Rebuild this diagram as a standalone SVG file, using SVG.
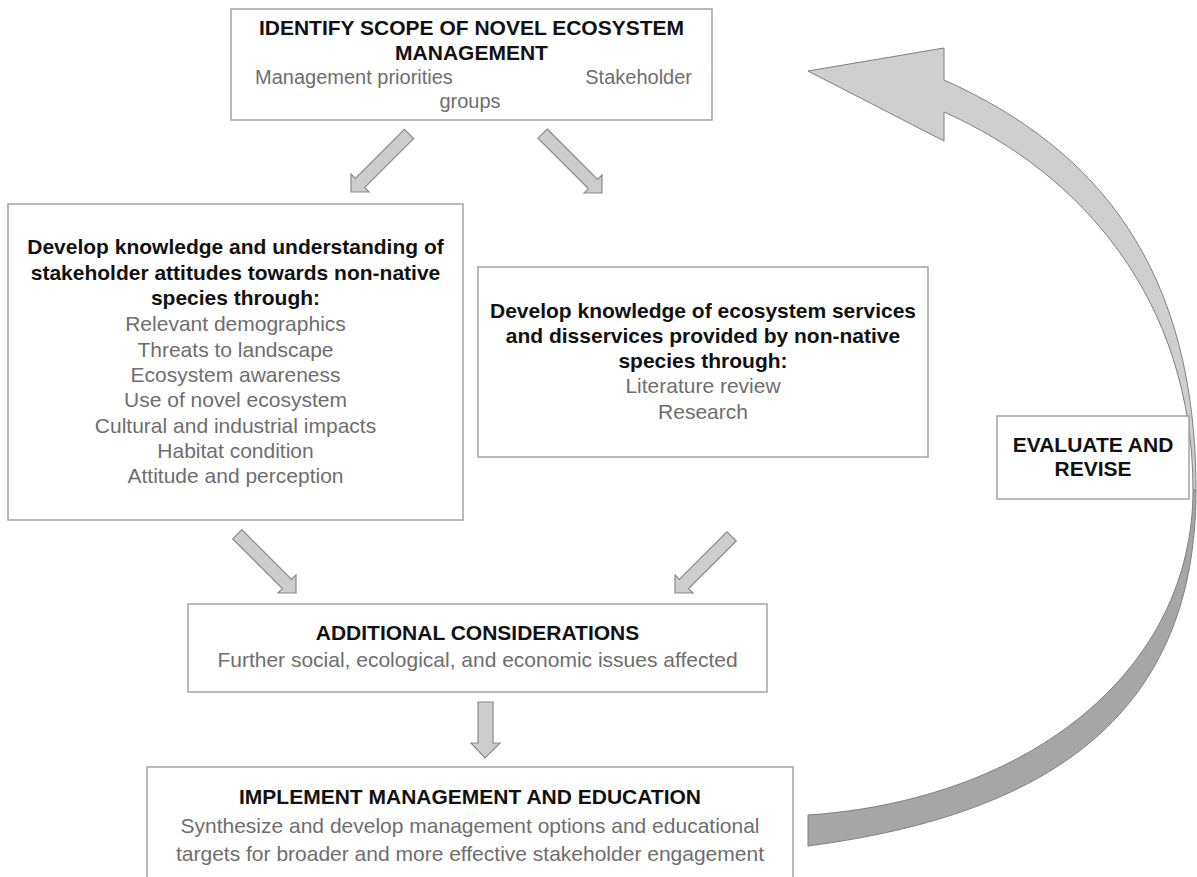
<svg xmlns="http://www.w3.org/2000/svg" width="1197" height="877" viewBox="0 0 1197 877">
<style>
.box{fill:#fff;stroke:#a3a3a3;stroke-width:1.5}
.t{font-family:"Liberation Sans",Arial,sans-serif;font-size:21px;font-weight:bold;fill:#111;text-anchor:middle}
.g{font-family:"Liberation Sans",Arial,sans-serif;font-size:21px;fill:#6e6e6e;text-anchor:middle}
.arr{fill:#cdcdcd;stroke:#8a8a8a;stroke-width:1.2;stroke-linejoin:miter}
</style>
<rect width="1197" height="877" fill="#fff"/>
<g id="connectors">
<polygon class="arr" points="413.6,138.6 364.6,187.6 369,192 351,192 351,174 355.4,178.4 404.4,129.4"/>
<polygon class="arr" points="547.2,129 597.6,179.4 602,175 602,193 584,193 588.4,188.6 538,138.2"/>
<polygon class="arr" points="241.9,529.7 291.6,579.4 296,575 296,593 278,593 282.4,588.6 232.7,538.9"/>
<polygon class="arr" points="736.2,541 688.6,588.6 693,593 675,593 675,575 679.4,579.4 727,531.8"/>
<polygon class="arr" points="478,702 493,702 493,743 500,743 485,758 471,743 478,743"/>
<path fill="#a6a6a6" stroke="#7f7f7f" stroke-width="1" d="M1196,490 C1196,710 1056,813.5 808,846 L808,815 C1030,800 1193,670 1193,490 Z"/>
<path fill="#cfcfcf" stroke="#7f7f7f" stroke-width="1" d="M808,71 L944,48 L944,80 C1099,149 1196,270 1196,490 L1193,490 C1193,300 1081,173 944,112 L944,141 Z"/>
</g>
<g id="scope">
<rect class="box" x="231" y="9" width="481" height="111"/>
<text class="t" x="471.5" y="35">IDENTIFY SCOPE OF NOVEL ECOSYSTEM</text>
<text class="t" x="471.5" y="60">MANAGEMENT</text>
<text class="g" x="255" y="84" style="text-anchor:start;font-size:20px">Management priorities</text>
<text class="g" x="692" y="84" style="text-anchor:end;font-size:20px">Stakeholder</text>
<text class="g" x="470" y="108" style="font-size:20px">groups</text>
</g>
<g id="attitudes">
<rect class="box" x="8" y="204" width="455" height="316"/>
<text class="t" x="235.5" y="254">Develop knowledge and understanding of</text>
<text class="t" x="235.5" y="280">stakeholder attitudes towards non-native</text>
<text class="t" x="235.5" y="305">species through:</text>
<text class="g" x="235.5" y="331">Relevant demographics</text>
<text class="g" x="235.5" y="356.5">Threats to landscape</text>
<text class="g" x="235.5" y="382">Ecosystem awareness</text>
<text class="g" x="235.5" y="407">Use of novel ecosystem</text>
<text class="g" x="235.5" y="432.5">Cultural and industrial impacts</text>
<text class="g" x="235.5" y="458">Habitat condition</text>
<text class="g" x="235.5" y="483">Attitude and perception</text>
</g>
<g id="services">
<rect class="box" x="478" y="267" width="450" height="190"/>
<text class="t" x="703" y="318">Develop knowledge of ecosystem services</text>
<text class="t" x="703" y="343">and disservices provided by non-native</text>
<text class="t" x="703" y="368">species through:</text>
<text class="g" x="703" y="393">Literature review</text>
<text class="g" x="703" y="419">Research</text>
</g>
<g id="additional">
<rect class="box" x="188" y="604" width="579" height="88"/>
<text class="t" x="477.5" y="640">ADDITIONAL CONSIDERATIONS</text>
<text class="g" x="477.5" y="667">Further social, ecological, and economic issues affected</text>
</g>
<g id="implement">
<rect class="box" x="147" y="767" width="646" height="130"/>
<text class="t" x="470" y="804">IMPLEMENT MANAGEMENT AND EDUCATION</text>
<text class="g" x="470" y="833">Synthesize and develop management options and educational</text>
<text class="g" x="470" y="861">targets for broader and more effective stakeholder engagement</text>
</g>
<g id="evaluate">
<rect class="box" x="997" y="416" width="192" height="83"/>
<text class="t" x="1093" y="452">EVALUATE AND</text>
<text class="t" x="1093" y="476">REVISE</text>
</g>
</svg>
